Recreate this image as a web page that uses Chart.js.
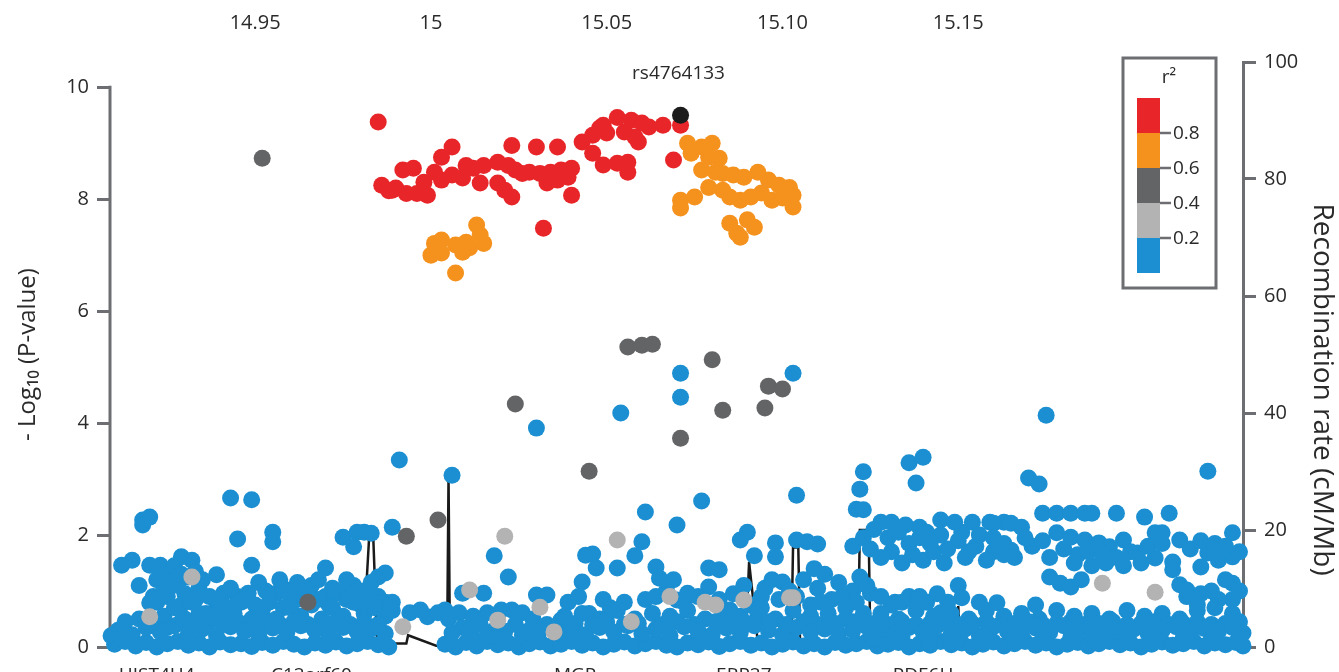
<!DOCTYPE html>
<html>
<head>
<meta charset="utf-8">
<script src="https://cdn.jsdelivr.net/npm/chart.js@4.4.0/dist/chart.umd.min.js"></script>
<style>
  html, body { margin: 0; padding: 0; background: #fff; }
  #wrap { width: 1339px; height: 672px; overflow: hidden; }
</style>
</head>
<body>
<div id="wrap"><canvas id="myChart" width="1339" height="672"></canvas></div>
<script>
// positions are kb on chr12, y is -log10(P)
var xMin = 14908.7, xMax = 15231;
var yMax = 10.45;
var xTickKb = [14950, 15000, 15050, 15100, 15150];
var xTickLabels = ['14.95', '15', '15.05', '15.10', '15.15'];
var pTicks = [0, 2, 4, 6, 8, 10];
var recTicks = [0, 20, 40, 60, 80, 100];
var recTitle = 'Recombination rate (cM/Mb)';

var leadName = 'rs4764133';
var leadSnp = [[15071, 9.5]];

var red = [[14985,9.38],[15049,9.32],[15053,9.46],[15057,9.41],[15060,9.36],[15050,9.18],[15055,9.2],[15058,9.11],[15059,9.02],
  [15048,9.27],[15046,9.14],[15062,9.29],[15066,9.32],[15071,9.32],[15069,8.7],[15043,9.02],[15046,8.82],[15049,8.61],
  [15053,8.64],[15056,8.66],[15056,8.48],[15023,8.96],[15030,8.93],[15036,8.93],[15006,8.93],[15003,8.75],[14992,8.52],
  [14995,8.55],[14986,8.25],[14989,8.16],[14993,8.1],[14996,8.1],[14999,8.07],[15001,8.48],[15003,8.34],[15006,8.43],
  [15009,8.38],[15012,8.55],[15015,8.6],[15019,8.66],[15022,8.6],[15024,8.52],[15014,8.29],[15019,8.29],[15021,8.16],
  [15023,8.04],[15026,8.46],[15028,8.48],[15031,8.46],[15034,8.48],[15037,8.52],[15040,8.55],[15033,8.29],[15036,8.34],
  [15039,8.39],[15040,8.07],[15032,7.48],[15010,8.6],[14998,8.3],[14990,8.2],[14988,8.15]];

var orange = [[15001,7.21],[15003,7.27],[15007,7.18],[15010,7.23],[15013,7.54],[15014,7.36],[15015,7.21],[15003,7.04],
  [15009,7.05],[15011,7.13],[15000,7.0],[15007,6.68],
  [15073,9.0],[15077,8.93],[15080,9.0],[15074,8.82],[15079,8.75],[15082,8.73],
  [15077,8.52],[15081,8.48],[15083,8.46],[15086,8.43],[15089,8.39],[15093,8.48],[15096,8.34],[15099,8.25],[15102,8.21],[15103,8.07],
  [15071,7.98],[15075,8.04],[15079,8.21],[15083,8.16],[15085,8.04],[15088,7.98],[15091,8.04],[15094,8.11],[15097,7.98],
  [15100,8.02],[15103,7.86],[15071,7.84],[15085,7.57],[15087,7.39],[15090,7.63],[15092,7.5],[15088,7.32]];

var darkGray = [[14952,8.73],[15024,4.34],[15056,5.36],[15060,5.39],[15063,5.41],[15080,5.13],[15083,4.23],[15096,4.66],
  [15100,4.61],[15095,4.27],[15071,3.73],[15045,3.14],[14993,1.98],[15002,2.27],[14965,0.8]];

var lightGray = [[14932,1.25],[14920,0.54],[14992,0.36],[15021,1.98],[15011,1.02],[15019,0.48],[15031,0.71],[15035,0.27],
  [15053,1.91],[15057,0.45],[15068,0.9],[15078,0.8],[15081,0.75],[15089,0.84],[15102,0.88],[15103,0.88],[15191,1.14],[15206,0.98]];

var blueHigh = [[14918,2.27],[14920,2.32],[14918,2.18],[14912,1.46],[14915,1.55],[14920,1.46],[14923,1.46],[14929,1.61],[14932,1.55],
  [14943,2.66],[14949,2.63],[14945,1.93],[14955,2.05],[14955,1.88],[14949,1.46],[14970,1.41],
  [14975,1.96],[14978,1.79],[14979,2.05],[14981,2.05],[14983,2.03],[14989,2.14],[14991,3.34],[15006,3.07],
  [15018,1.63],[15044,1.64],[15046,1.66],[15047,1.41],[15053,1.41],[15060,1.88],[15058,1.63],[15061,2.41],[15064,1.43],
  [15070,2.18],[15077,2.61],[15071,4.89],[15071,4.46],[15054,4.18],[15030,3.91],[15103,4.89],
  [15079,1.41],[15082,1.38],[15088,1.91],[15090,2.05],[15092,1.63],[15098,1.86],[15098,1.61],[15104,1.91],[15107,1.88],
  [15110,1.84],[15104,2.71],[15121,2.46],[15123,2.45],[15123,3.13],[15122,2.82],
  [15136,3.29],[15140,3.39],[15138,2.93],[15175,4.14],[15170,3.02],[15173,2.91],[15221,3.14],
  [15128,2.23],[15131,2.23],[15135,2.18],[15139,2.14],[15141,2.05],[15145,2.27],[15149,2.23],[15154,2.23],[15159,2.23],
  [15163,2.23],[15160,2.21],[15165,2.21],[15168,2.14],[15174,2.39],[15178,2.39],[15182,2.39],[15186,2.39],[15188,2.39],
  [15195,2.39],[15203,2.32],[15210,2.39],[15161,1.79],[15165,1.73],[15178,2.04],[15182,1.96],[15186,1.91],[15190,1.86],
  [15193,1.79],[15197,1.91],[15201,1.68],[15183,1.5],[15188,1.45],[15192,1.5],[15197,1.45],[15202,1.5],[15206,2.04],
  [15208,2.04],[15213,1.91],[15206,1.59],[15211,1.52],[15211,1.38],[15221,1.68],[15225,1.68],[15228,2.04],[15219,1.43],
  [15224,1.55],[15228,1.61],[15125,1.75],[15128,1.6],[15131,1.7],[15134,1.5],[15137,1.65],[15140,1.55],[15143,1.7],
  [15146,1.5],[15145,2.0],[15150,1.9],[15155,1.8],[15160,1.7],[15152,1.6],[15158,1.55],[15163,1.65],[15120,1.8],[15123,1.95],
  [15126,2.1],[15130,1.95],[15133,2.05],[15136,1.85],[15139,1.95],[15142,1.85],[15147,1.75],[15151,2.05],[15153,1.7],
  [15156,2.0],[15160,1.95],[15163,1.85],[15166,1.6],[15169,1.95],[15171,1.8],[15174,1.9],[15176,1.6],[15180,1.75],
  [15184,1.65],[15187,1.7],[15191,1.65],[15195,1.6],[15199,1.7],[15204,1.8],[15208,1.85],[15216,1.75],[15219,1.9],
  [15223,1.85],[15226,1.8],[15230,1.7]];

var blueMid = [[14917,1.1],[14921,0.9],[14922,1.2],[14924,1.0],[14926,1.3],[14928,1.1],[14930,0.95],[14931,1.25],[14934,1.05],
  [14923,1.35],[14939,1.29],[14937,0.9],[14941,0.96],[14945,0.9],[14948,0.96],[14953,1.0],[14956,0.96],[14960,0.9],
  [14964,1.0],[14970,0.9],[14974,0.96],[14977,0.9],[14981,0.84],[14985,0.9],[14987,0.8],[14978,1.1],[14985,1.25],
  [14987,1.32],[14958,1.05],[14966,1.1],[15009,0.96],[15015,0.96],[15030,0.93],[15033,0.93],[15043,1.16],[15022,1.25],
  [15064,0.9],[15065,1.23],[15069,1.2],[15070,0.84],[15073,0.96],[15079,1.07],[15097,1.2],[15100,1.16],[15094,0.9],
  [15104,0.9],[15106,1.2],[15108,0.75],[15110,1.05],[15112,1.3],[15114,0.85],[15116,1.15],[15118,0.7],[15120,1.0],
  [15122,1.25],[15109,1.4],[15125,0.96],[15132,0.8],[15136,0.9],[15150,1.1],[15151,0.88],[15161,0.79],[15172,0.75],
  [15176,1.25],[15179,1.14],[15182,1.07],[15185,1.2],[15213,1.11],[15215,1.02],[15228,1.14],[15215,0.9],[15222,1.0],
  [15226,1.2],[15218,0.75],[15228,0.85],
  [14922,0.8],[14925,0.9],[14929,0.75],[14933,0.85],[14939,0.8],[14943,0.7],[14947,0.85],[14950,0.75],[14954,0.8],
  [14958,0.7],[14962,0.85],[14968,0.85],[14971,0.75],[14976,0.85],[14980,0.75],[14983,0.85],[14986,0.7],[14989,0.8],
  [14925,1.15],[14927,1.45],[14929,1.3],[14933,1.35],[14935,1.2],[14943,1.05],[14951,1.15],[14957,1.2],[14962,1.15],
  [14968,1.2],[14972,1.05],[14976,1.2],[14981,1.0],[14983,1.15],
  [15039,0.8],[15042,0.9],[15049,0.85],[15055,0.8],[15061,0.85],[15067,1.0],[15072,0.8],[15076,0.9],[15082,0.85],
  [15086,0.95],[15089,1.1],[15095,1.05],[15099,0.85],[15102,1.0],[15111,0.8],[15117,0.9],[15121,0.8],[15124,1.1],
  [15128,0.9],[15131,0.75],[15137,0.85],[15141,0.8],[15144,0.95],[15147,0.8],[15156,0.8],[15219,0.95],[15224,0.85],[15230,1.0]];

var blueLow = [[14924,0.55],[14927,0.7],[14930,0.5],[14932,0.8],[14934,0.6],[14936,0.6],[14938,0.55],[14940,0.75],[14942,0.5],
  [14944,0.6],[14946,0.8],[14949,0.5],[14952,0.65],[14956,0.5],[14960,0.7],[14963,0.55],[14966,0.75],[14969,0.5],
  [14972,0.7],[14975,0.55],[14978,0.8],[14981,0.6],[14984,0.7],[14987,0.55],[14989,0.65],[14920,0.79],[14919,0.45],
  [14994,0.61],[14997,0.66],[14999,0.54],[15002,0.61],[15004,0.66],
  [15008,0.61],[15016,0.61],[15020,0.66],[15023,0.66],[15026,0.61],[15037,0.48],[15045,0.6],[15051,0.7],[15005,0.5],
  [15012,0.55],[15029,0.5],
  [15038,0.55],[15043,0.6],[15048,0.5],[15053,0.65],[15058,0.5],[15063,0.6],[15068,0.55],[15073,0.65],[15078,0.5],
  [15083,0.6],[15085,0.66],[15088,0.55],[15091,0.75],[15093,0.6],[15098,0.5],[15103,0.65],[15108,0.55],[15113,0.6],
  [15118,0.5],[15123,0.6],[15094,0.7],
  [15128,0.6],[15133,0.5],[15138,0.65],[15143,0.55],[15145,0.61],[15148,0.6],[15153,0.5],[15158,0.65],[15163,0.55],
  [15168,0.6],[15173,0.5],[15178,0.65],[15183,0.55],[15188,0.6],[15193,0.5],[15198,0.65],[15203,0.55],[15208,0.6],
  [15213,0.5],[15218,0.65],[15223,0.7],[15228,0.6],[15134,0.8],[15139,0.9],
  [14913,0.45],[14917,0.5],[14921,0.4],[14925,0.35],[14929,0.45],[14933,0.4],[14937,0.45],[14941,0.4],[14945,0.45],
  [14949,0.35],[14953,0.45],[14957,0.4],[14961,0.45],[14965,0.4],[14969,0.35],[14973,0.45],[14977,0.4],[14981,0.45],
  [14985,0.4],[15009,0.35],[15014,0.4],[15018,0.3],[15024,0.4],[15028,0.3],[15033,0.4],
  [15041,0.42],[15046,0.4],[15050,0.45],[15055,0.4],[15059,0.42],[15066,0.4],[15070,0.45],[15075,0.4],[15081,0.45],
  [15086,0.4],[15090,0.42],[15096,0.45],[15101,0.4],[15106,0.45],[15110,0.4],[15115,0.42],[15120,0.45],[15124,0.4],
  [15126,0.42],[15130,0.4],[15134,0.45],[15138,0.4],[15142,0.42],[15146,0.45],[15150,0.4],[15154,0.42],[15158,0.45],
  [15162,0.4],[15166,0.42],[15170,0.45],[15174,0.4],[15178,0.42],[15182,0.45],[15186,0.4],[15190,0.42],[15194,0.45],
  [15198,0.4],[15202,0.42],[15206,0.45],[15210,0.4],[15214,0.42],[15218,0.45],[15222,0.4],[15226,0.42],[15230,0.45]];

var blueBottom = [[14910,0.05],[14913,0.1],[14916,0.02],[14919,0.08],[14922,0.0],[14925,0.06],[14928,0.1],[14931,0.03],
  [14934,0.07],[14937,0.0],[14940,0.09],[14943,0.04],[14946,0.06],[14949,0.01],[14952,0.08],[14955,0.03],[14958,0.1],
  [14961,0.05],[14964,0.0],[14967,0.07],[14970,0.03],[14973,0.09],[14976,0.02],[14979,0.06],[14982,0.1],[14985,0.04],
  [14988,0.0],[15004,0.05],[15007,0.0],[15010,0.08],[15013,0.02],[15016,0.1],[15019,0.04],[15022,0.07],[15025,0.0],
  [15028,0.06],[15031,0.09],[15034,0.02],[15037,0.05],[15040,0.1],[15043,0.03],[15046,0.07],[15049,0.0],[15052,0.05],
  [15055,0.09],[15058,0.02],[15061,0.06],[15064,0.1],[15067,0.03],[15070,0.0],[15073,0.07],[15076,0.04],[15079,0.09],
  [15082,0.01],[15085,0.06],[15088,0.1],[15091,0.03],[15094,0.07],[15097,0.0],[15100,0.05],[15103,0.09],[15106,0.02],
  [15109,0.06],[15112,0.0],[15115,0.08],[15118,0.03],[15121,0.06],[15124,0.1],[15127,0.02],[15130,0.05],[15133,0.08],
  [15136,0.0],[15139,0.06],[15142,0.03],[15145,0.1],[15148,0.04],[15151,0.07],[15154,0.0],[15157,0.05],[15160,0.09],
  [15163,0.02],[15166,0.06],[15169,0.1],[15172,0.03],[15175,0.07],[15178,0.0],[15181,0.05],[15184,0.08],[15187,0.02],
  [15190,0.06],[15193,0.1],[15196,0.04],[15199,0.07],[15202,0.0],[15205,0.05],[15208,0.09],[15211,0.03],[15214,0.06],
  [15217,0.1],[15220,0.02],[15223,0.07],[15226,0.04],[15229,0.08],[15231,0.02],
  [14911,0.3],[14915,0.22],[14919,0.35],[14923,0.27],[14927,0.38],[14931,0.24],[14935,0.32],[14939,0.2],[14943,0.36],
  [14947,0.28],[14951,0.22],[14955,0.34],[14959,0.26],[14963,0.38],[14967,0.3],[14971,0.22],[14975,0.35],[14979,0.27],
  [14983,0.32],[14987,0.24],[15006,0.25],[15011,0.3],[15016,0.2],[15021,0.28],[15026,0.22],[15031,0.3],[15036,0.25],
  [15040,0.3],[15044,0.22],[15048,0.35],[15052,0.27],[15056,0.38],[15060,0.24],[15064,0.32],[15068,0.2],[15072,0.36],
  [15076,0.28],[15080,0.22],[15084,0.34],[15088,0.26],[15092,0.38],[15096,0.3],[15100,0.22],[15104,0.35],[15108,0.27],
  [15112,0.32],[15116,0.24],[15120,0.3],[15124,0.36],[15128,0.3],[15132,0.22],[15136,0.35],[15140,0.27],[15144,0.38],
  [15148,0.24],[15152,0.32],[15156,0.2],[15160,0.36],[15164,0.28],[15168,0.22],[15172,0.34],[15176,0.26],[15180,0.38],
  [15184,0.3],[15188,0.22],[15192,0.35],[15196,0.27],[15200,0.32],[15204,0.24],[15208,0.3],[15212,0.36],[15216,0.25],
  [15220,0.33],[15224,0.28],[15228,0.35],[15231,0.25],
  [14909,0.2],[14912,0.15],[15012,0.15],[15020,0.15],[15030,0.12],
  [15126,0.15],[15134,0.18],[15142,0.15],[15150,0.17],[15158,0.15],[15166,0.18],[15174,0.15],[15182,0.17],[15190,0.15],
  [15198,0.18],[15206,0.15],[15214,0.17],[15222,0.15],[15230,0.18]];

// recombination rate, cM/Mb
var recKb = [14909, 14980.7, 14982.4, 14983.6, 14984.7, 14993, 14993.5, 15002, 15004.6, 15005, 15005.4, 15033, 15037,
  15089.5, 15090.5, 15093, 15102.5, 15103, 15104.5, 15105, 15121.5, 15122, 15124.5, 15125, 15149.5, 15150, 15150.5, 15231];
var recRate = [0.4, 0.6, 18.6, 18.6, 0.6, 0.6, 2.0, 0.1, 0.3, 29, 0.3, 0.3, 0.7,
  0.7, 14.5, 0.7, 0.7, 17, 17, 0.7, 0.7, 20, 20, 0.7, 0.7, 7, 0.7, 0.5];

var geneNames = ['HIST4H4', 'C12orf60', 'MGP', 'ERP27', 'PDE6H'];
var geneKb = [14922, 14966, 15041, 15089, 15140];

var r2Labels = ['0.8', '0.6', '0.4', '0.2'];
var colRed = '#e8262a', colOrange = '#f5921e', colDark = '#636466', colLight = '#b3b3b3', colBlue = '#1b8fd1';
var r2Colors = [colRed, colOrange, colDark, colLight, colBlue];
var axisColor = '#6d6e71';
var textColor = '#2a2a2a';
var fontFam = "'Open Sans', sans-serif";

Chart.defaults.font.family = fontFam;

var overlay = {
  id: 'overlay',
  beforeDatasetsDraw: function(chart) {
    var c = chart.ctx, ys = chart.scales.y, a = chart.chartArea;
    c.save();
    c.strokeStyle = axisColor;
    c.lineWidth = 3;
    c.beginPath();
    c.moveTo(a.left, ys.getPixelForValue(pTicks[pTicks.length - 1]) - 1.5);
    c.lineTo(a.left, ys.getPixelForValue(0) + 1.5);
    c.stroke();
    c.restore();
  },
  afterDraw: function(chart) {
    var c = chart.ctx, xs = chart.scales.x, ys = chart.scales.y, y2 = chart.scales.y2, a = chart.chartArea;
    c.save();
    c.fillStyle = textColor;
    // lead snp label
    c.font = '19px ' + fontFam;
    c.textAlign = 'center';
    c.textBaseline = 'middle';
    c.fillText(leadName, xs.getPixelForValue(leadSnp[0][0]) - 2, ys.getPixelForValue(leadSnp[0][1]) - 42);
    // gene names, cut by the bottom edge
    c.textBaseline = 'top';
    for (var i = 0; i < geneNames.length; i++) {
      c.fillText(geneNames[i], xs.getPixelForValue(geneKb[i]), chart.height - 6);
    }
    // r2 legend
    var bx = a.right - 120, by = a.top - 4, bw = 93, bh = 230;
    c.strokeStyle = axisColor;
    c.lineWidth = 3;
    c.strokeRect(bx, by, bw, bh);
    c.textAlign = 'center';
    c.textBaseline = 'middle';
    c.fillText('r²', bx + 46, by + 20);
    var sx = bx + 14, sy = by + 40, sw = 23, sh = 35;
    for (var j = 0; j < r2Colors.length; j++) {
      c.fillStyle = r2Colors[j];
      c.fillRect(sx, sy + j * sh, sw, sh);
    }
    c.fillStyle = textColor;
    c.textAlign = 'left';
    c.lineWidth = 2.5;
    for (var k = 0; k < r2Labels.length; k++) {
      var ty = sy + (k + 1) * sh;
      c.beginPath();
      c.moveTo(sx + sw, ty);
      c.lineTo(sx + sw + 11, ty);
      c.stroke();
      c.fillText(r2Labels[k], sx + sw + 13, ty + 1);
    }
    // right axis title, sits a bit low like the original
    c.translate(y2.right - 17, y2.getPixelForValue(44));
    c.rotate(Math.PI / 2);
    c.textAlign = 'center';
    c.font = '28px ' + fontFam;
    c.fillText(recTitle, 0, 0);
    c.restore();
  }
};

var pointSet = function(pts, color) {
  return { data: pts, backgroundColor: color, borderWidth: 0, pointRadius: 8.5, pointHoverRadius: 8.5, clip: false };
};

var ctx = document.getElementById('myChart').getContext('2d');
var myChart = new Chart(ctx, {
  type: 'scatter',
  data: {
    datasets: [
      pointSet(leadSnp, '#1c1c1c'),
      pointSet(red, colRed),
      pointSet(orange, colOrange),
      pointSet(darkGray, colDark),
      pointSet(lightGray, colLight),
      pointSet(blueHigh.concat(blueMid, blueLow, blueBottom), colBlue),
      {
        data: recKb.map(function(k, i) { return { x: k, y: recRate[i] }; }),
        yAxisID: 'y2',
        showLine: true,
        borderColor: '#1a1a1a',
        borderWidth: 2.5,
        pointRadius: 0,
        tension: 0
      }
    ]
  },
  options: {
    responsive: false,
    animation: false,
    devicePixelRatio: 1,
    layout: { padding: { left: 0, right: 0, top: 0, bottom: 25 } },
    plugins: { legend: { display: false }, tooltip: { enabled: false } },
    scales: {
      x: {
        type: 'linear',
        position: 'top',
        min: xMin,
        max: xMax,
        grid: { display: false, drawTicks: false },
        border: { display: false },
        afterBuildTicks: function(s) { s.ticks = xTickKb.map(function(v) { return { value: v }; }); },
        afterFit: function(s) { s.height = 62; },
        ticks: {
          padding: 27,
          autoSkip: false,
          maxRotation: 0,
          color: textColor,
          font: { size: 20 },
          callback: function(v) {
            var i = xTickKb.indexOf(v);
            return i >= 0 ? xTickLabels[i] : '';
          }
        }
      },
      y: {
        position: 'left',
        min: 0,
        max: yMax,
        afterBuildTicks: function(s) { s.ticks = pTicks.map(function(v) { return { value: v }; }); },
        afterFit: function(s) { s.width = 110; },
        grid: { drawOnChartArea: false, drawTicks: true, tickLength: 13, tickWidth: 3, tickColor: axisColor, color: axisColor },
        border: { display: false },
        ticks: { padding: 8, color: textColor, font: { size: 20 } },
        title: { display: true, text: '- Log₁₀ (P-value)', color: textColor, font: { size: 24 }, padding: { top: 14, bottom: 0 } }
      },
      y2: {
        position: 'right',
        min: 0,
        max: 100,
        afterBuildTicks: function(s) { s.ticks = recTicks.map(function(v) { return { value: v }; }); },
        afterFit: function(s) { s.width = 96; },
        grid: { drawOnChartArea: false, drawTicks: true, tickLength: 13, tickWidth: 3, tickColor: axisColor, color: axisColor },
        border: { display: true, color: axisColor, width: 3 },
        ticks: { padding: 8, color: textColor, font: { size: 20 } },
        title: { display: false }
      }
    }
  },
  plugins: [overlay]
});
</script>
</body>
</html>
